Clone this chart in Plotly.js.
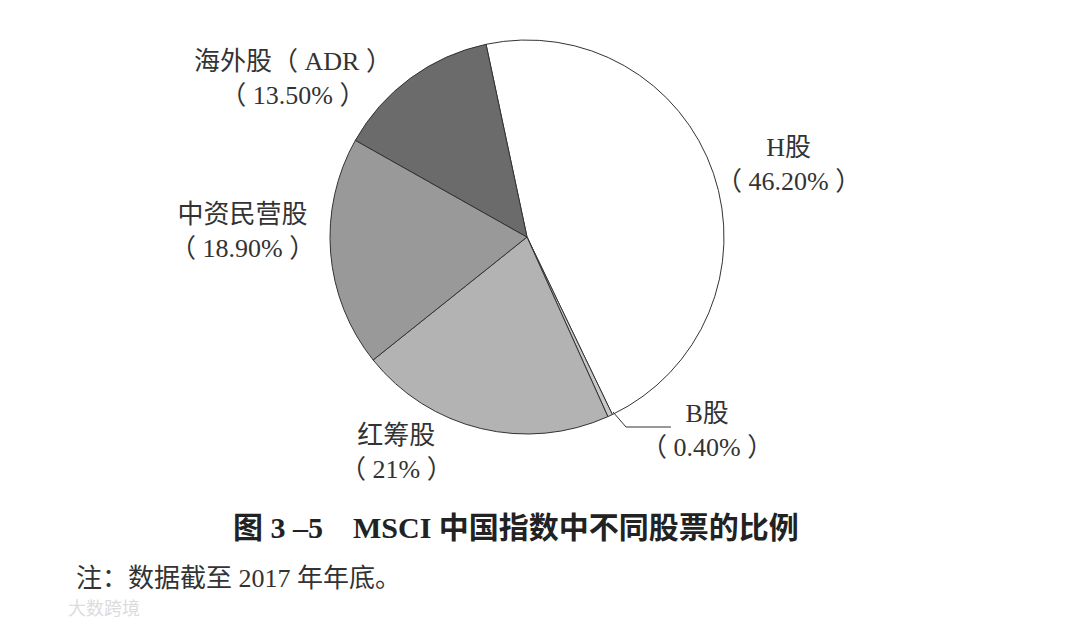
<!DOCTYPE html>
<html><head><meta charset="utf-8">
<script src="https://cdn.plot.ly/plotly-3.0.1.min.js"></script>
<style>html,body{margin:0;padding:0;background:#fff;}#chart{width:1080px;height:629px;}</style>
</head><body><div id="chart"></div>
<script>
const categories = ["H股", "B股", "红筹股", "中资民营股", "海外股（ADR）"];
const shares = [46.2, 0.4, 21, 18.9, 13.5];
const pctLabels = ["46.20%", "0.40%", "21%", "18.90%", "13.50%"];
const sliceColors = ["#ffffff", "#c8c8c8", "#b3b3b3", "#999999", "#6b6b6b"];
const titleText = "图 3 –5　MSCI 中国指数中不同股票的比例";
const noteText = "注：数据截至 2017 年年底。";

const FONT = '"Liberation Serif", "Noto Sans CJK SC", serif';
const labelPos = [
  {x: 788, y: 164}, {x: 707, y: 430}, {x: 396, y: 452}, {x: 242, y: 231}, {x: 293, y: 79}
];
const annotations = categories.map((c, i) => ({
  x: labelPos[i].x / 1080, y: 1 - labelPos[i].y / 629, xref: 'paper', yref: 'paper',
  xanchor: 'center', yanchor: 'middle',
  text: c.replace("（", "（ ").replace("）", " ）") + "<br>（ " + pctLabels[i] + " ）",
  showarrow: false, align: 'center', font: {family: FONT, size: 26, color: '#333'}
}));
annotations.push({x: 516/1080, y: 1 - 527/629, xref: 'paper', yref: 'paper', showarrow: false,
  xanchor: 'center', yanchor: 'middle',
  text: "<b>" + titleText + "</b>", font: {family: FONT, size: 30, color: '#222'}});
annotations.push({x: 74/1080, y: 1 - 578/629, xref: 'paper', yref: 'paper', showarrow: false,
  xanchor: 'left', yanchor: 'middle',
  text: noteText, font: {family: FONT, size: 26, color: '#333'}});
annotations.push({x: 66/1080, y: 1 - 607/629, xref: 'paper', yref: 'paper', showarrow: false,
  xanchor: 'left', yanchor: 'middle',
  text: "大数跨境", font: {family: '"Noto Sans CJK SC", sans-serif', size: 18, color: '#dcdcdc'}});

const cx = 527, cy = 237, r = 197;
const data = [{
  type: 'pie', labels: categories, values: shares, sort: false, direction: 'clockwise', rotation: -12,
  marker: {colors: sliceColors, line: {color: '#333', width: 1}},
  textinfo: 'none', hoverinfo: 'label+percent', showlegend: false,
  domain: {x: [(cx - r)/1080, (cx + r)/1080], y: [1 - (cy + r)/629, 1 - (cy - r)/629]}
}];
const layout = {
  width: 1080, height: 629, margin: {l: 0, r: 0, t: 0, b: 0},
  paper_bgcolor: '#fff', plot_bgcolor: '#fff', showlegend: false,
  annotations: annotations,
  shapes: [{type: 'path', xref: 'paper', yref: 'paper',
    path: `M ${613/1080} ${1-412/629} L ${626/1080} ${1-427/629} L ${671/1080} ${1-427/629}`,
    line: {color: '#333', width: 1}}]
};
Plotly.newPlot('chart', data, layout, {displayModeBar: false, staticPlot: true});
</script></body></html>
